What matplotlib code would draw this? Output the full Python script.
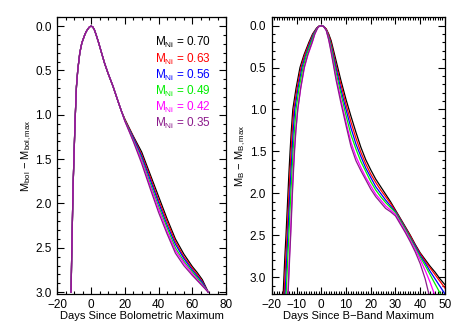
import numpy as np
import matplotlib
matplotlib.use('Agg')
import matplotlib.pyplot as plt
from matplotlib.ticker import MultipleLocator, FormatStrFormatter

plt.rcParams['font.family'] = ['Liberation Sans', 'DejaVu Sans']
plt.rcParams['font.size'] = 8.5
plt.rcParams['mathtext.fontset'] = 'custom'
plt.rcParams['mathtext.rm'] = 'Liberation Sans'
plt.rcParams['mathtext.it'] = 'Liberation Sans'

# --- Ni masses and colours
ni_masses = ['0.70', '0.63', '0.56', '0.49', '0.42', '0.35']
colors = ['black', '#ff0000', '#0000ff', '#00ee00', '#ff00ff', '#8b1a8b']

# --- left panel: bolometric light curves
# common part (same for all masses)
bol_common_day = [-11.9, -11.5, -11.1, -10.7, -10.1, -9.5, -8.7, -7.9, -6.7, -5.5, -4.0, -3.0, -2.0, -1.0, 0.0,
                  1.0, 2.0, 3.0, 4.5, 6.0, 8.0, 10.0, 13.0, 16.0, 18.0]
bol_common_mag = [3.0, 2.57, 2.19, 1.81, 1.43, 1.06, 0.68, 0.49, 0.30, 0.19, 0.11, 0.065, 0.035, 0.01, 0.0,
                  0.01, 0.045, 0.10, 0.19, 0.29, 0.42, 0.53, 0.68, 0.85, 0.96]
# late part, per mass
bol_late_day = [20, 25, 30, 35, 40, 45, 50, 55, 60, 63, 66, 69.5]
bol_late_070 = [1.05, 1.24, 1.42, 1.67, 1.92, 2.17, 2.40, 2.57, 2.71, 2.78, 2.86, 3.0]
bol_late_063 = [1.05, 1.25, 1.45, 1.70, 1.96, 2.20, 2.43, 2.60, 2.73, 2.80, 2.88, 3.0]
bol_late_056 = [1.06, 1.26, 1.47, 1.73, 1.99, 2.24, 2.46, 2.62, 2.75, 2.82, 2.89, 3.0]
bol_late_049 = [1.06, 1.28, 1.50, 1.77, 2.03, 2.27, 2.50, 2.65, 2.77, 2.84, 2.91, 3.0]
bol_late_042 = [1.07, 1.29, 1.52, 1.80, 2.06, 2.31, 2.53, 2.67, 2.79, 2.86, 2.92, 3.0]
bol_late_035 = [1.07, 1.30, 1.55, 1.83, 2.10, 2.34, 2.56, 2.70, 2.81, 2.87, 2.93, 3.0]
bol_late = [bol_late_070, bol_late_063, bol_late_056, bol_late_049, bol_late_042, bol_late_035]

# --- right panel: B-band light curves
# rise: day reached at each magnitude
b_rise_mag = [3.2, 2.75, 2.5, 2.25, 2.0, 1.75, 1.5, 1.25, 1.0, 0.75, 0.5, 0.35, 0.2, 0.1, 0.03, 0.008]
b_rise_070 = [-15.4, -14.7, -14.25, -13.85, -13.45, -13.05, -12.6, -12.1, -11.5, -10.2, -8.6, -7.0, -5.0, -3.5, -1.9, -1.0]
b_rise_063 = [-15.0, -14.3, -13.85, -13.45, -13.05, -12.65, -12.2, -11.7, -11.1, -9.8, -8.2, -6.7, -4.7, -3.3, -1.8, -1.0]
b_rise_056 = [-14.6, -13.9, -13.5, -13.1, -12.7, -12.25, -11.8, -11.3, -10.7, -9.4, -7.8, -6.3, -4.4, -3.1, -1.7, -0.9]
b_rise_049 = [-14.2, -13.5, -13.1, -12.7, -12.3, -11.85, -11.4, -10.85, -10.2, -9.0, -7.4, -6.0, -4.1, -2.9, -1.6, -0.9]
b_rise_042 = [-13.5, -12.85, -12.45, -12.1, -11.75, -11.35, -10.9, -10.3, -9.5, -8.3, -6.8, -5.4, -3.6, -2.6, -1.5, -0.8]
b_rise_035 = [-13.4, -12.75, -12.35, -12.0, -11.65, -11.25, -10.8, -10.25, -9.5, -8.35, -6.9, -5.5, -3.7, -2.6, -1.5, -0.8]

# decline: magnitude on a common day grid
b_decl_day = [0, 1, 2, 3, 4, 6, 8, 10, 12, 14, 16, 18, 20, 22, 24, 26, 28, 30, 32, 34, 36]
b_decl_070 = [0, .01, .04, .10, .18, .42, .66, .88, 1.08, 1.27, 1.45, 1.60, 1.72, 1.83, 1.92, 2.01, 2.10, 2.20, 2.30, 2.40, 2.50]
b_decl_063 = [0, .01, .04, .11, .21, .47, .71, .94, 1.15, 1.34, 1.51, 1.65, 1.77, 1.87, 1.96, 2.04, 2.12, 2.21, 2.31, 2.41, 2.51]
b_decl_056 = [0, .01, .05, .13, .24, .51, .77, 1.00, 1.22, 1.41, 1.56, 1.70, 1.81, 1.92, 2.00, 2.08, 2.15, 2.22, 2.32, 2.42, 2.53]
b_decl_049 = [0, .012, .05, .14, .26, .56, .82, 1.07, 1.30, 1.47, 1.62, 1.74, 1.86, 1.96, 2.04, 2.11, 2.17, 2.23, 2.33, 2.43, 2.54]
b_decl_042 = [0, .013, .055, .16, .30, .62, .89, 1.15, 1.39, 1.56, 1.69, 1.81, 1.91, 2.01, 2.08, 2.15, 2.20, 2.25, 2.35, 2.45, 2.56]
b_decl_035 = [0, .013, .055, .17, .32, .65, .93, 1.19, 1.44, 1.61, 1.73, 1.84, 1.95, 2.04, 2.11, 2.18, 2.22, 2.27, 2.37, 2.47, 2.58]

# late tail, per mass
b_tail_day_070, b_tail_mag_070 = [38, 40, 42, 44, 46, 48, 50], [2.61, 2.71, 2.79, 2.87, 2.94, 3.02, 3.09]
b_tail_day_063, b_tail_mag_063 = [38, 40, 42, 44, 46, 48, 50], [2.62, 2.72, 2.81, 2.89, 2.97, 3.05, 3.13]
b_tail_day_056, b_tail_mag_056 = [38, 40, 42, 44, 46, 48, 50], [2.63, 2.74, 2.83, 2.93, 3.02, 3.11, 3.20]
b_tail_day_049, b_tail_mag_049 = [38, 40, 42, 44, 46, 48.2], [2.65, 2.76, 2.86, 2.97, 3.08, 3.20]
b_tail_day_042, b_tail_mag_042 = [38, 40, 42, 44, 45.7], [2.67, 2.79, 2.92, 3.06, 3.20]
b_tail_day_035, b_tail_mag_035 = [38, 40, 42, 43.5], [2.70, 2.84, 3.02, 3.20]

b_rise = [b_rise_070, b_rise_063, b_rise_056, b_rise_049, b_rise_042, b_rise_035]
b_decl = [b_decl_070, b_decl_063, b_decl_056, b_decl_049, b_decl_042, b_decl_035]
b_tail_day = [b_tail_day_070, b_tail_day_063, b_tail_day_056, b_tail_day_049, b_tail_day_042, b_tail_day_035]
b_tail_mag = [b_tail_mag_070, b_tail_mag_063, b_tail_mag_056, b_tail_mag_049, b_tail_mag_042, b_tail_mag_035]

fig = plt.figure(figsize=(4.63, 3.31), dpi=100)
ax1 = fig.add_axes([0.124, 0.112, 0.364, 0.836])
ax2 = fig.add_axes([0.587, 0.112, 0.374, 0.836])

for i, c in enumerate(colors):
    x = bol_common_day + bol_late_day
    y = bol_common_mag + bol_late[i]
    ax1.plot(x, y, color=c, lw=0.9)

    xb = b_rise[i] + b_decl_day + b_tail_day[i]
    yb = b_rise_mag + b_decl[i] + b_tail_mag[i]
    ax2.plot(xb, yb, color=c, lw=0.9)

for i, (m, c) in enumerate(zip(ni_masses, colors)):
    ax1.text(0.58, 0.907 - i * 0.0585, r'M$_{\mathrm{Ni}}$ = ' + m, color=c,
             transform=ax1.transAxes, va='center', ha='left', fontsize=8.5)

ax1.set_xlim(-20, 80)
ax1.set_ylim(3.02, -0.1)
ax1.xaxis.set_major_locator(MultipleLocator(20))
ax1.xaxis.set_minor_locator(MultipleLocator(5))
ax1.set_xlabel('Days Since Bolometric Maximum', fontsize=8, labelpad=0)
ax1.set_ylabel(r'M$_{\mathrm{bol}}$ $-$ M$_{\mathrm{bol,max}}$', fontsize=8)
ax1.yaxis.set_label_coords(-0.141, 0.5)

ax2.set_xlim(-20, 50)
ax2.set_ylim(3.2, -0.1)
ax2.xaxis.set_major_locator(MultipleLocator(10))
ax2.xaxis.set_minor_locator(MultipleLocator(1))
ax2.set_xlabel('Days Since B\u2212Band Maximum', fontsize=8, labelpad=0)
ax2.set_ylabel(r'M$_{\mathrm{B}}$ $-$ M$_{\mathrm{B,max}}$', fontsize=8)
ax2.yaxis.set_label_coords(-0.139, 0.5)

for ax in (ax1, ax2):
    ax.yaxis.set_major_locator(MultipleLocator(0.5))
    ax.yaxis.set_minor_locator(MultipleLocator(0.1))
    ax.yaxis.set_major_formatter(FormatStrFormatter('%.1f'))
    ax.tick_params(which='both', direction='in', top=True, right=True, width=0.8)
    ax.tick_params(which='major', length=5, pad=4)
    ax.tick_params(which='minor', length=2.5)
    for s in ax.spines.values():
        s.set_linewidth(0.9)

fig.savefig('out.png', dpi=100)
